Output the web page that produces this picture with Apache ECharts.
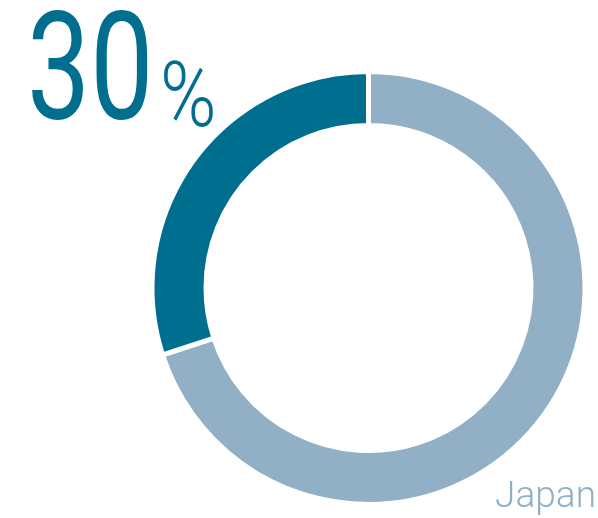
<!DOCTYPE html>
<html>
<head>
<meta charset="utf-8">
<script src="https://cdn.jsdelivr.net/npm/echarts@6/dist/echarts.min.js"></script>
<style>
  html, body { margin: 0; padding: 0; background: #fff; }
  #chart { width: 598px; height: 518px; }
</style>
</head>
<body>
<div id="chart"></div>
<script>
// share values
const categories = ['Other', 'Japan']
const shares = [70, 30]
const colors = ['#91b0c6', '#006e8e']
const headline = '30'

const chart = echarts.init(document.getElementById('chart'))

chart.setOption({
  animation: false,
  series: [
    {
      type: 'pie',
      center: [368.5, 288],
      radius: [162.5, 216.5],
      startAngle: 90,
      clockwise: true,
      silent: true,
      label: { show: false },
      labelLine: { show: false },
      itemStyle: { borderColor: '#fff', borderWidth: 5 },
      data: categories.map((name, i) => ({
        name: name,
        value: shares[i],
        itemStyle: { color: colors[i] }
      }))
    }
  ],
  graphic: [
    {
      type: 'text',
      x: 27,
      y: 81,
      scaleX: 0.75,
      style: {
        text: headline,
        font: '400 150px Roboto',
        fill: '#006e8e',
        textAlign: 'left',
        textVerticalAlign: 'middle'
      }
    },
    {
      type: 'text',
      x: 160,
      y: 103,
      scaleX: 0.85,
      style: {
        text: '%',
        font: '300 90px Roboto',
        fill: '#006e8e',
        textAlign: 'left',
        textVerticalAlign: 'middle'
      }
    },
    {
      type: 'text',
      x: 596,
      y: 498,
      style: {
        text: categories[1],
        font: '300 37px Roboto',
        fill: '#8fafc4',
        textAlign: 'right',
        textVerticalAlign: 'middle'
      }
    }
  ]
})
</script>
</body>
</html>
